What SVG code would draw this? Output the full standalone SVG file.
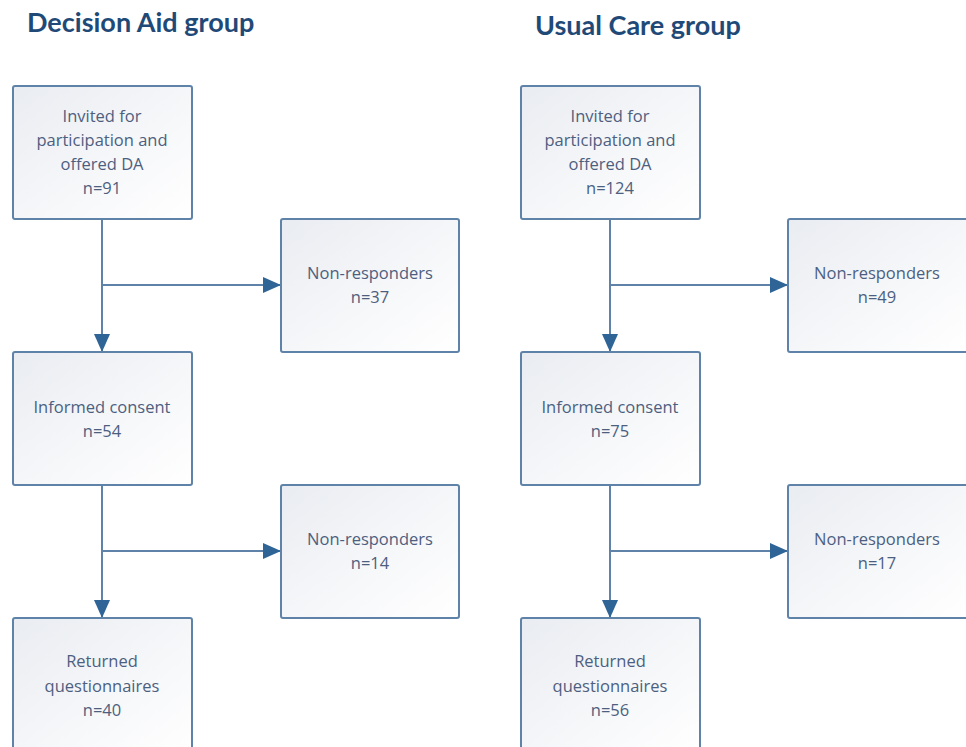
<svg xmlns="http://www.w3.org/2000/svg" width="966" height="747" viewBox="0 0 966 747">
<defs>
<linearGradient id="g" x1="0" y1="0" x2="1" y2="1">
<stop offset="0" stop-color="#e9ecf1"/>
<stop offset="0.6" stop-color="#f7f8fa"/>
<stop offset="1" stop-color="#ffffff"/>
</linearGradient>
<marker id="ahb" markerWidth="18" markerHeight="16" refX="18" refY="8" orient="auto" markerUnits="userSpaceOnUse" viewBox="0 0 18 16">
<path d="M0,0 L18,8 L0,16 Z" fill="#2f6497"/>
</marker>
</defs>
<style>
.box{fill:url(#g);stroke:#5f83a8;stroke-width:2}
.t{font-family:"Open Sans","Liberation Sans",sans-serif;font-size:16.5px;fill:#4d5f80;text-anchor:middle}
.title{font-family:"Lato","Open Sans","Liberation Sans",sans-serif;font-size:27px;font-weight:bold;fill:#1f4a78}
.c{stroke:#5f83a8;stroke-width:2;fill:none}
</style>
<rect width="966" height="747" fill="#ffffff"/>
<text class="title" x="27" y="32">Decision Aid group</text>
<text class="title" x="535" y="35">Usual Care group</text>
<g id="connectors">
<path class="c" d="M102,219 V352" marker-end="url(#ahb)"/>
<path class="c" d="M102,285 H281" marker-end="url(#ahb)"/>
<path class="c" d="M102,485 V618" marker-end="url(#ahb)"/>
<path class="c" d="M102,551 H281" marker-end="url(#ahb)"/>
<path class="c" d="M610,219 V352" marker-end="url(#ahb)"/>
<path class="c" d="M610,285 H788" marker-end="url(#ahb)"/>
<path class="c" d="M610,485 V618" marker-end="url(#ahb)"/>
<path class="c" d="M610,551 H788" marker-end="url(#ahb)"/>
</g>
<g id="da-invited">
<rect class="box" x="13" y="86" width="179" height="133" rx="2"/>
<text class="t" x="102" y="122">Invited for</text>
<text class="t" x="102" y="146">participation and</text>
<text class="t" x="102" y="170">offered DA</text>
<text class="t" x="102" y="194">n=91</text>
</g>
<g id="da-nonresp1">
<rect class="box" x="281" y="219" width="178" height="133" rx="2"/>
<text class="t" x="370" y="279">Non-responders</text>
<text class="t" x="370" y="303">n=37</text>
</g>
<g id="da-consent">
<rect class="box" x="13" y="352" width="179" height="133" rx="2"/>
<text class="t" x="102" y="413">Informed consent</text>
<text class="t" x="102" y="437">n=54</text>
</g>
<g id="da-nonresp2">
<rect class="box" x="281" y="485" width="178" height="133" rx="2"/>
<text class="t" x="370" y="545">Non-responders</text>
<text class="t" x="370" y="569">n=14</text>
</g>
<g id="da-returned">
<rect class="box" x="13" y="618" width="179" height="140" rx="2"/>
<text class="t" x="102" y="667">Returned</text>
<text class="t" x="102" y="692">questionnaires</text>
<text class="t" x="102" y="716">n=40</text>
</g>
<g id="uc-invited">
<rect class="box" x="521" y="86" width="179" height="133" rx="2"/>
<text class="t" x="610" y="122">Invited for</text>
<text class="t" x="610" y="146">participation and</text>
<text class="t" x="610" y="170">offered DA</text>
<text class="t" x="610" y="194">n=124</text>
</g>
<g id="uc-nonresp1">
<rect class="box" x="788" y="219" width="180" height="133" rx="2"/>
<text class="t" x="877" y="279">Non-responders</text>
<text class="t" x="877" y="303">n=49</text>
</g>
<g id="uc-consent">
<rect class="box" x="521" y="352" width="179" height="133" rx="2"/>
<text class="t" x="610" y="413">Informed consent</text>
<text class="t" x="610" y="437">n=75</text>
</g>
<g id="uc-nonresp2">
<rect class="box" x="788" y="485" width="180" height="133" rx="2"/>
<text class="t" x="877" y="545">Non-responders</text>
<text class="t" x="877" y="569">n=17</text>
</g>
<g id="uc-returned">
<rect class="box" x="521" y="618" width="179" height="140" rx="2"/>
<text class="t" x="610" y="667">Returned</text>
<text class="t" x="610" y="692">questionnaires</text>
<text class="t" x="610" y="716">n=56</text>
</g>
</svg>
